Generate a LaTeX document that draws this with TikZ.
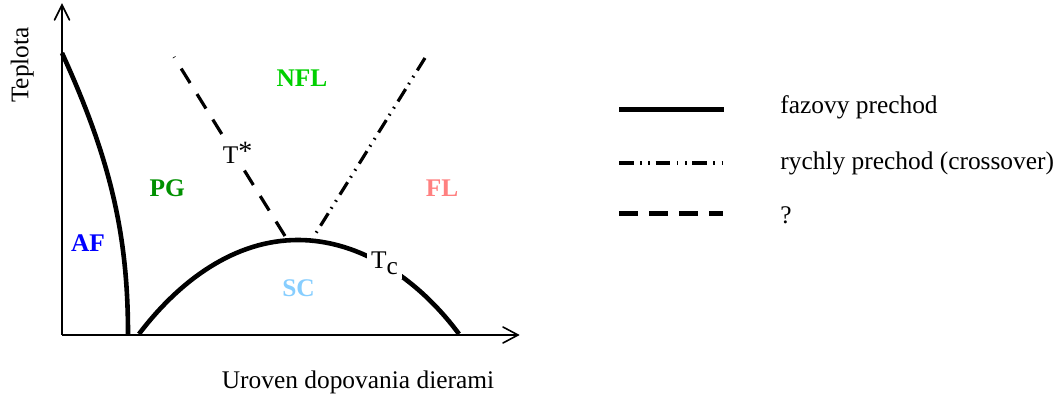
\documentclass[tikz,border=0pt]{standalone}
\usepackage{fontspec}
\setmainfont{Liberation Serif}
\definecolor{afblue}{RGB}{0,0,255}
\definecolor{pggreen}{RGB}{0,144,0}
\definecolor{nflgreen}{RGB}{0,208,0}
\definecolor{flpink}{RGB}{255,128,128}
\definecolor{scblue}{RGB}{135,206,255}
\begin{document}
\begin{tikzpicture}[x=0.5pt,y=-0.5pt,
  font=\fontsize{12.7}{15}\selectfont,
  axis/.style={line width=1.35pt},
  barb/.style={line width=0.8pt, line cap=round, line join=miter},
  phase/.style={line width=2.3pt},
  qline/.style={line width=1.6pt, dash pattern=on 8.5pt off 6.5pt},
  cross/.style={line width=1.6pt, dash pattern=on 7.3pt off 3.3pt on 0.8pt off 3.3pt on 0.8pt off 2.8pt},
  region/.style={font=\fontsize{12.7}{15}\selectfont\bfseries, anchor=base, inner sep=0pt},
  lbl/.style={fill=white, inner sep=2pt, anchor=base west},
  legtext/.style={anchor=base west, inner sep=0pt}]
\useasboundingbox (0,0) rectangle (1056,394);

% axes
\coordinate (O) at (62,335);
\coordinate (Ytip) at (62,5);
\coordinate (Xtip) at (518,335);
\draw[axis] (O) -- (Ytip);
\draw[axis] (O) -- (Xtip);
\draw[barb] ([shift={(-7.5,15)}]Ytip) -- (Ytip) -- ([shift={(7.5,15)}]Ytip);
\draw[barb] ([shift={(-15,-8)}]Xtip) -- (Xtip) -- ([shift={(-15,8)}]Xtip);

% AF boundary
\coordinate (afTop) at (62,53);
\coordinate (afBot) at (128,334);
\draw[phase] (afTop) .. controls (110,158) and (128,234) .. (afBot);

% SC dome
\coordinate (scL) at (139,334);
\coordinate (scTop) at (298,240);
\coordinate (scR) at (459,334);
\draw[phase] (scL) .. controls (180,280) and (235,240) .. (scTop)
  .. controls (361,240) and (419,280) .. (scR);

% T* line and crossover line
\coordinate (tsB) at (285,236);
\coordinate (tsT) at (174,57);
\draw[qline] (tsB) -- (tsT);
\coordinate (crT) at (425,58);
\coordinate (crB) at (316,233);
\draw[cross] (crT) -- (crB);

% line labels
\node[lbl] (tstar) at (218.5,164) {T\raisebox{1.5pt}{\fontsize{14}{16}\selectfont *}};
\node[lbl] (tc) at (366.7,268.3) {T\raisebox{-3.3pt}{c}};

% regions
\node[region, text=afblue] (af) at (88,251.7) {AF};
\node[region, text=pggreen] (pg) at (167.3,196.7) {PG};
\node[region, text=nflgreen] (nfl) at (302,86.7) {NFL};
\node[region, text=flpink] (fl) at (442,196.7) {FL};
\node[region, text=scblue] (sc) at (298.5,296.7) {SC};

% axis labels
\node[anchor=base, inner sep=0pt] (xlab) at (358,388.5) {Uroven dopovania dierami};
\node[rotate=90, anchor=base, inner sep=0pt] (ylab) at (28.3,65) {Teplota};

% legend
\coordinate (l1a) at (619,109.5); \coordinate (l1b) at (724,109.5);
\coordinate (l2a) at (619,163); \coordinate (l2b) at (723,163);
\coordinate (l3a) at (619,213.5); \coordinate (l3b) at (723,213.5);
\draw[line width=2.8pt] (l1a) -- (l1b);
\draw[cross, line width=1.7pt] (l2a) -- (l2b);
\draw[line width=2.1pt, dash pattern=on 9.5pt off 5.5pt] (l3a) -- (l3b);
\node[legtext] (t1) at (780,113.3) {fazovy prechod};
\node[legtext] (t2) at (780,170) {rychly prechod (crossover)};
\node[legtext] (t3) at (780,223.3) {?};
\end{tikzpicture}
\end{document}
